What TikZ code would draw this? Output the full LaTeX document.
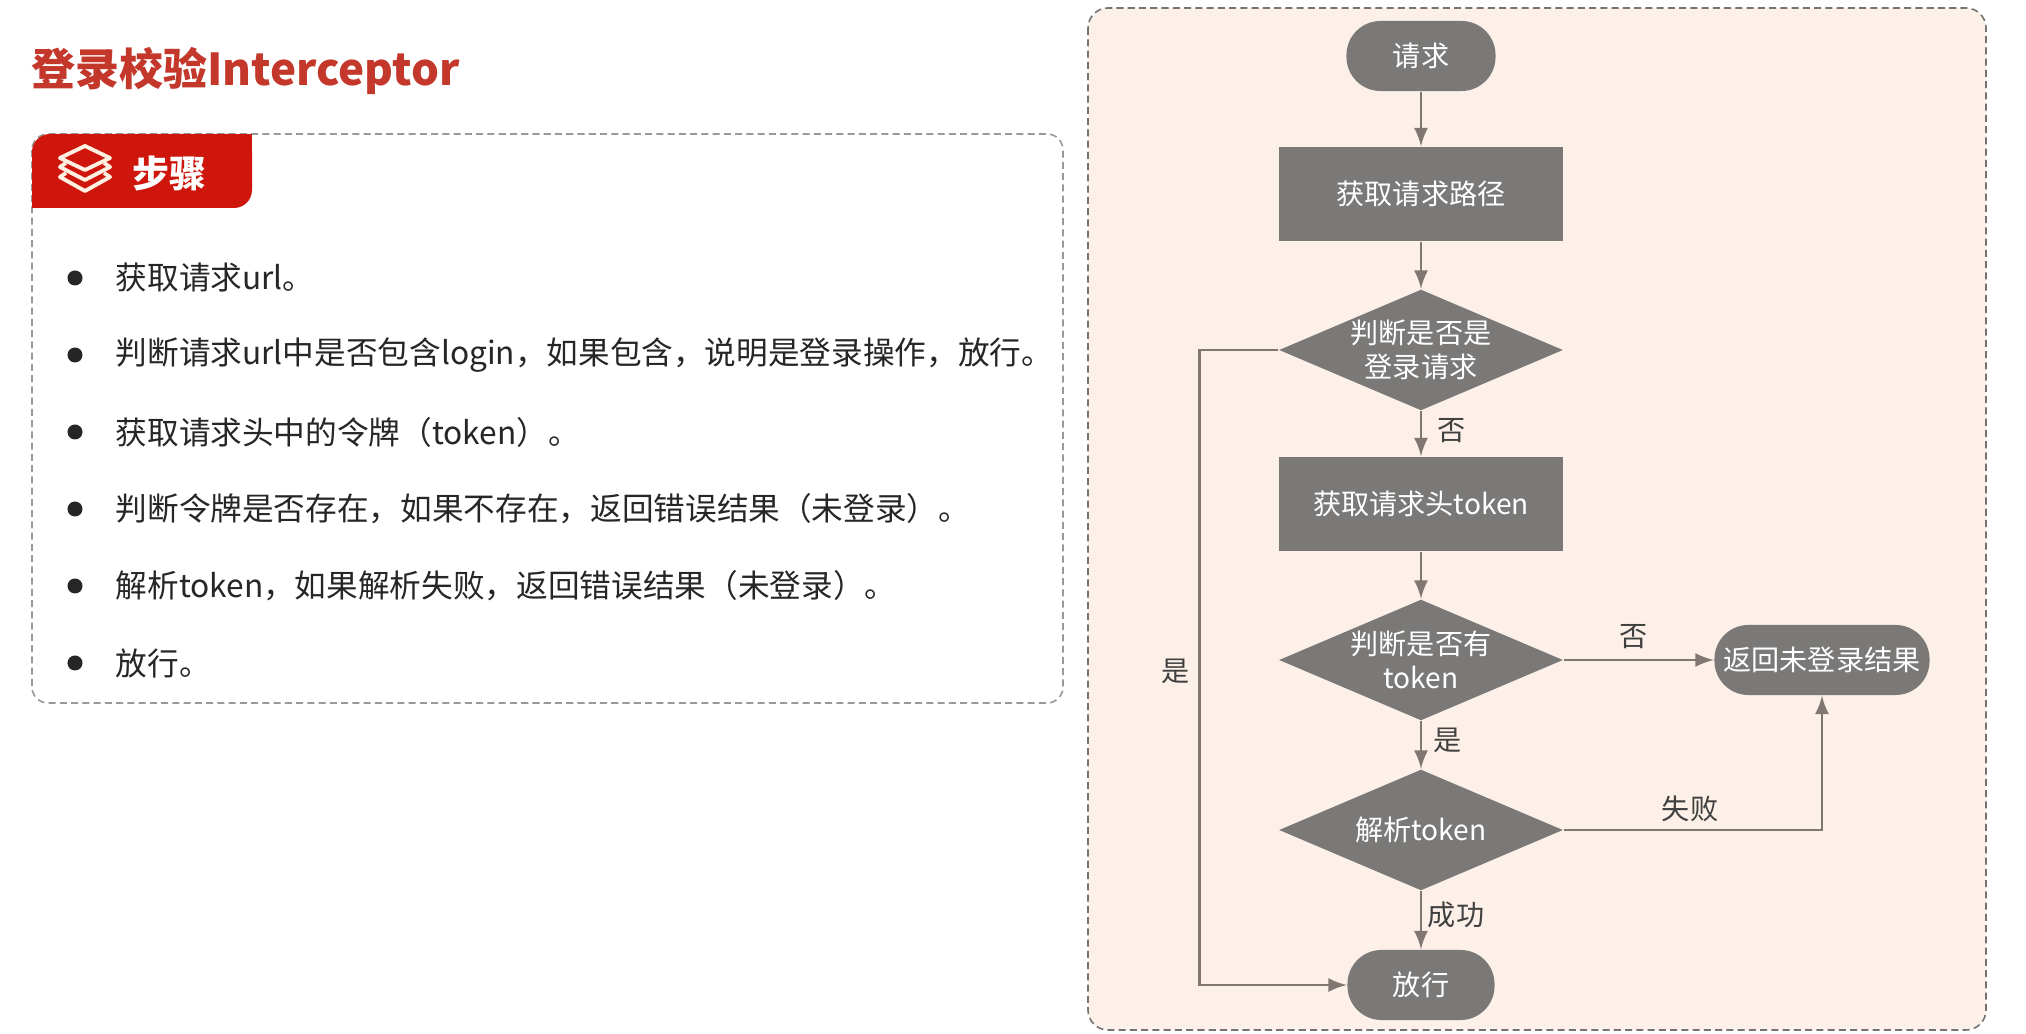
\documentclass[tikz,border=0pt]{standalone}
\usepackage{fontspec}
\setmainfont{Noto Sans CJK SC}
\usepackage{tikz}
\usetikzlibrary{shapes.geometric}
\definecolor{titlered}{RGB}{196,55,43}
\definecolor{tabred}{RGB}{206,22,12}
\definecolor{panelbg}{RGB}{252,240,232}
\definecolor{boxgray}{RGB}{122,121,120}
\definecolor{linegray}{RGB}{128,118,114}
\definecolor{icon}{RGB}{255,240,225}

\begin{document}
\begin{tikzpicture}[x=0.01cm, y=-0.01cm]
	\tikzstyle{bullettext} = [anchor=west, inner sep=0pt, font=\fontsize{9pt}{10pt}\selectfont, text=black!85]
	\tikzstyle{dot} = [circle, fill=black!85, inner sep=0pt, minimum size=0.15cm]
	\tikzstyle{proc} = [rectangle, fill=boxgray, text=white, minimum width=2.84cm, minimum height=0.94cm, inner sep=0pt, font=\fontsize{8pt}{10pt}\selectfont]
	\tikzstyle{term} = [rectangle, rounded corners=0.34cm, fill=boxgray, text=white, minimum height=0.70cm, inner sep=0pt, font=\fontsize{8pt}{10pt}\selectfont]
	\tikzstyle{decide} = [diamond, aspect=2.33, fill=boxgray, text=white, minimum width=2.84cm, minimum height=1.21cm, inner sep=0pt, align=center, font=\fontsize{8pt}{9.5pt}\selectfont]
	\tikzstyle{lbl} = [inner sep=0pt, text=black!75, font=\fontsize{8pt}{10pt}\selectfont]
	\tikzstyle{flow} = [linegray, line width=0.8pt, -latex]
	\tikzstyle{fine dash} = [dash pattern=on 2pt off 1.2pt, line width=0.45pt]
	% page
	\useasboundingbox (0,0) rectangle (2026,1034);
	\fill [white] (0,0) rectangle (2026,1034);
	% left part
	\node [anchor=west, inner sep=0pt, text=titlered, font=\fontsize{12.5pt}{15pt}\selectfont\bfseries] (title) at (31,71) {登录校验Interceptor};
	\draw [black!40, fine dash, rounded corners=0.16cm] (32,134) rectangle (1063,703);
	\fill [tabred, rounded corners=0.18cm] (32,208) -- (32,134) -- (252,134) -- (252,208) -- cycle;
	\fill [tabred] (32,180) rectangle (60,208);
	\fill [tabred] (220,134) rectangle (252,160);
	% layers icon
	\draw [icon, line width=1.1pt, line join=round] (85,146) -- (110,158) -- (85,170) -- (60,158) -- cycle;
	\draw [icon, line width=1.1pt, line join=round] (66,163) -- (60,167) -- (85,180) -- (110,167) -- (104,163);
	\draw [icon, line width=1.1pt, line join=round] (66,173) -- (60,177) -- (85,191) -- (110,177) -- (104,173);
	\node [anchor=west, inner sep=0pt, text=white, font=\fontsize{10.5pt}{12pt}\selectfont\bfseries] (steps) at (132,173) {步骤};
	\node [dot] (d1) at (75,278) {};
	\node [dot] (d2) at (75,355) {};
	\node [dot] (d3) at (75,432) {};
	\node [dot] (d4) at (75,509) {};
	\node [dot] (d5) at (75,586) {};
	\node [dot] (d6) at (75,663) {};
	\node [bullettext] (s1) at (115,278) {获取请求url。};
	\node [bullettext] (s2) at (115,355) {判断请求url中是否包含login，如果包含，说明是登录操作，放行。};
	\node [bullettext] (s3) at (115,432) {获取请求头中的令牌（token）。};
	\node [bullettext] (s4) at (115,509) {判断令牌是否存在，如果不存在，返回错误结果（未登录）。};
	\node [bullettext] (s5) at (115,586) {解析token，如果解析失败，返回错误结果（未登录）。};
	\node [bullettext] (s6) at (115,663) {放行。};
	% right part
	\filldraw [fill=panelbg, draw=black!55, fine dash, rounded corners=0.2cm] (1088,8) rectangle (1986,1030);
	\node [term, minimum width=1.49cm] (req) at (1421,56) {请求};
	\node [proc] (getpath) at (1421,194) {获取请求路径};
	\node [decide] (islogin) at (1421,350) {判断是否是\\登录请求};
	\node [proc] (gethead) at (1421,504) {获取请求头token};
	\node [decide] (hastoken) at (1421,660) {判断是否有\\token};
	\node [decide] (parse) at (1421,830) {解析token};
	\node [term, minimum width=2.15cm] (fail) at (1822,660) {返回未登录结果};
	\node [term, minimum width=1.47cm] (pass) at (1421,985) {放行};
	\node [lbl] (no1) at (1452,431) {否};
	\node [lbl] (no2) at (1634,637) {否};
	\node [lbl] (yes1) at (1448,740) {是};
	\node [lbl] (yes2) at (1176,671) {是};
	\node [lbl] (bad) at (1690,809) {失败};
	\node [lbl] (ok) at (1456,915) {成功};
	\draw [flow] (req)--(getpath);
	\draw [flow] (getpath)--(islogin);
	\draw [flow] (islogin)--(gethead);
	\draw [flow] (gethead)--(hastoken);
	\draw [flow] (hastoken)--(parse);
	\draw [flow] (parse)--(pass);
	\draw [flow] (hastoken.east)--(fail.west);
	\draw [flow] (parse.east) -| (fail.south);
	\draw [flow] (islogin.west) -- ++(-79,0) |- (pass.west);
\end{tikzpicture}
\end{document}
